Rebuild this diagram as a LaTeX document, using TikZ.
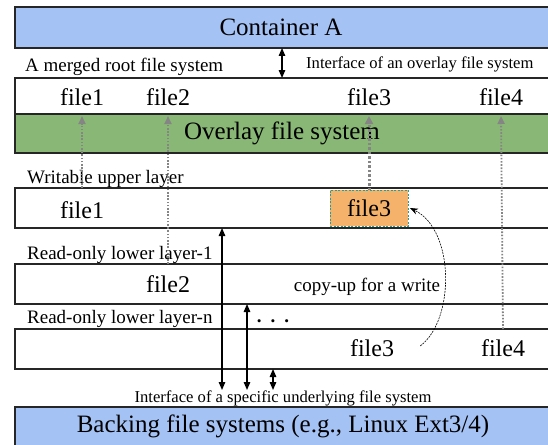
\documentclass[tikz,border=0pt]{standalone}
\usepackage{fontspec}
\setmainfont{Liberation Serif}
\usetikzlibrary{arrows.meta}
\definecolor{topblue}{HTML}{A4C2F4}
\definecolor{ovgreen}{HTML}{89B775}
\definecolor{fileorange}{HTML}{F5B26A}
\definecolor{tealdash}{HTML}{2A9D8F}
\definecolor{arrowgray}{HTML}{858585}
\definecolor{boxline}{HTML}{262626}
\tikzset{
  layerbox/.style={draw=boxline, line width=1.3pt, anchor=north west, inner sep=0pt, outer sep=0pt, minimum width=545pt},
  titletext/.style={font=\fontsize{25}{30}\selectfont, inner sep=0pt},
  fname/.style={font=\fontsize{24}{28}\selectfont, inner sep=0pt},
  lbl/.style={font=\fontsize{19}{22}\selectfont, inner sep=0pt, anchor=west},
  ilbl/.style={font=\fontsize{16.6}{20}\selectfont, inner sep=0pt},
  dotarrow/.style={draw=arrowgray, line width=1.8pt, dash pattern=on 1.6pt off 1.6pt, -{Triangle[length=8pt,width=7pt,fill=arrowgray]}, shorten >=2pt},
  thickdotarrow/.style={dotarrow, line width=3pt, dash pattern=on 2.5pt off 2pt, -{Triangle[length=8pt,width=8pt,fill=arrowgray]}},
  biarrow/.style={draw=black, line width=1.3pt, {Triangle[length=8pt,width=6.5pt]}-{Triangle[length=8pt,width=6.5pt]}},
  copyarrow/.style={draw=black, line width=0.6pt, dash pattern=on 2pt off 1pt, -{Stealth[length=8pt,width=6pt]}}
}
\begin{document}
\begin{tikzpicture}[x=1pt,y=-1pt]
\clip (0,0) rectangle (548,444);
\fill[white] (0,0) rectangle (548,444);
% boxes
\node[layerbox, fill=topblue, minimum height=41pt] (contA) at (15,7) {};
\node[layerbox, fill=white, minimum height=36pt] (merged) at (15,78) {};
\node[layerbox, fill=ovgreen, minimum height=39pt] (overlay) at (15,114) {};
\node[layerbox, fill=white, minimum height=40pt] (upper) at (15,188) {};
\node[layerbox, fill=white, minimum height=40pt] (low1) at (15,264) {};
\node[layerbox, fill=white, minimum height=40pt] (lown) at (15,329) {};
\node[layerbox, fill=topblue, minimum height=50pt] (backing) at (15,407) {};
% titles
\node[titletext] (contAtext) at (281,27) {Container A};
\node[titletext] (ovtext) at (282,133) {Overlay file system};
\node[titletext] (backtext) at (283,426) {Backing file systems (e.g., Linux Ext3/4)};
% labels
\node[lbl] (mergedlbl) at (25,67) {A merged root file system};
\node[ilbl, anchor=west] (ifacetop) at (306,64) {Interface of an overlay file system};
\node[lbl] (upperlbl) at (27,179) {Writable upper layer};
\node[lbl] (low1lbl) at (27,255) {Read-only lower layer-1};
\node[lbl] (lownlbl) at (27,319) {Read-only lower layer-n};
\node[ilbl] (ifacelow) at (283,398) {Interface of a specific underlying file system};
\node[font=\fontsize{19}{22}\selectfont\bfseries, inner sep=0pt, anchor=base] (dots) at (273,322) {.\hspace{9pt}.\hspace{9pt}.};
\node[lbl, anchor=center] (copylbl) at (367,287) {copy-up for a write};
% file names
\node[fname] (mf1) at (82,97) {file1};
\node[fname] (mf2) at (168,97) {file2};
\node[fname] (mf3) at (369,97) {file3};
\node[fname] (mf4) at (501,97) {file4};
\node[fname] (uf1) at (82,210) {file1};
\node[draw=tealdash, line width=0.8pt, dash pattern=on 2pt off 1.5pt, fill=fileorange, minimum width=78pt, minimum height=36pt, inner sep=0pt, outer sep=0pt, font=\fontsize{24}{28}\selectfont] (o3) at (369,208) {file3};
\node[fname] (lf2) at (168,284) {file2};
\node[fname] (nf3) at (372,348) {file3};
\node[fname] (nf4) at (503,348) {file4};
% dotted arrows
\draw[dotarrow] (uf1 |- upper.north) -- (mf1 |- overlay.north);
\draw[dotarrow] (lf2 |- low1.north) -- (mf2 |- overlay.north);
\draw[thickdotarrow] (o3.north) -- (mf3 |- overlay.north);
\draw[dotarrow] (nf4 |- lown.north) -- (mf4 |- overlay.north);
% black arrows
\coordinate (t0) at (282,0);
\draw[biarrow] (t0 |- contA.south) -- (t0 |- merged.north);
\coordinate (b1) at (222,390);
\coordinate (b2) at (247,390);
\coordinate (b3) at (273,390);
\draw[biarrow] (b1 |- upper.south) -- (b1);
\draw[biarrow] (b2 |- low1.south) -- (b2);
\draw[biarrow] (b3 |- lown.south) -- (b3);
% copy-up arrow
\coordinate (cs) at ([xshift=26pt,yshift=2pt]nf3.east);
\draw[copyarrow] (cs) .. controls (455,320) and (455,230) .. ([xshift=2pt]o3.east);
\end{tikzpicture}
\end{document}
